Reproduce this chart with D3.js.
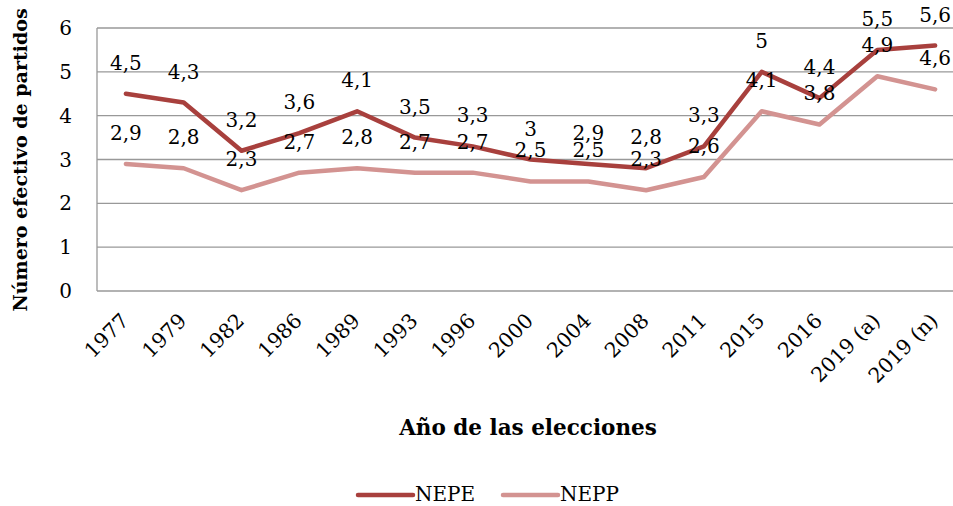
<!DOCTYPE html>
<html>
<head>
<meta charset="utf-8">
<script src="https://cdn.jsdelivr.net/npm/d3@7"></script>
<style>
  body { margin: 0; background: #fff; }
  svg { display: block; font-family: "DejaVu Serif", serif; }
</style>
</head>
<body>
<script>
const years = ["1977", "1979", "1982", "1986", "1989", "1993", "1996", "2000", "2004", "2008", "2011", "2015", "2016", "2019 (a)", "2019 (n)"];
const nepe = [4.5, 4.3, 3.2, 3.6, 4.1, 3.5, 3.3, 3, 2.9, 2.8, 3.3, 5, 4.4, 5.5, 5.6];
const nepp = [2.9, 2.8, 2.3, 2.7, 2.8, 2.7, 2.7, 2.5, 2.5, 2.3, 2.6, 4.1, 3.8, 4.9, 4.6];
const yTicks = [0, 1, 2, 3, 4, 5, 6];

const series = [
  { name: "NEPE", values: nepe, color: "#a8403d" },
  { name: "NEPP", values: nepp, color: "#d39391" }
];

const width = 953, height = 506;
const plotLeft = 97, plotRight = 964, plotTop = 28, plotBottom = 291;

const svg = d3.select("body").append("svg")
  .attr("width", width)
  .attr("height", height);

const x = d3.scalePoint().domain(years).range([plotLeft, plotRight]).padding(0.5);
const y = d3.scaleLinear().domain([0, 6]).range([plotBottom, plotTop]);

// gridlines
svg.append("g")
  .selectAll("line")
  .data(yTicks)
  .enter()
  .append("line")
  .attr("x1", plotLeft)
  .attr("x2", plotRight)
  .attr("y1", d => y(d))
  .attr("y2", d => y(d))
  .attr("stroke", "#999")
  .attr("stroke-width", 1.3);

svg.append("line")
  .attr("x1", plotLeft).attr("x2", plotLeft)
  .attr("y1", plotTop).attr("y2", plotBottom)
  .attr("stroke", "#999")
  .attr("stroke-width", 1.3);

// y tick labels
svg.append("g")
  .selectAll("text")
  .data(yTicks)
  .enter()
  .append("text")
  .attr("x", 72)
  .attr("y", d => y(d) + 7)
  .attr("text-anchor", "end")
  .attr("font-size", 20)
  .text(d => d);

// x tick labels, rotated
svg.append("g")
  .selectAll("text")
  .data(years)
  .enter()
  .append("text")
  .attr("transform", d => `translate(${x(d) + 4}, ${plotBottom + 31}) rotate(-45)`)
  .attr("text-anchor", "end")
  .attr("font-size", 20.5)
  .text(d => d);

const line = d3.line()
  .x((d, i) => x(years[i]))
  .y(d => y(d));

svg.append("g")
  .selectAll("path")
  .data(series.slice().reverse())
  .enter()
  .append("path")
  .attr("d", d => line(d.values))
  .attr("fill", "none")
  .attr("stroke", d => d.color)
  .attr("stroke-width", 4.5)
  .attr("stroke-linejoin", "round")
  .attr("stroke-linecap", "round");

// data labels
series.forEach(s => {
  svg.append("g")
    .selectAll("text")
    .data(s.values)
    .enter()
    .append("text")
    .attr("x", (d, i) => x(years[i]))
    .attr("y", d => y(d) - 24)
    .attr("text-anchor", "middle")
    .attr("font-size", 20)
    .text(d => String(d).replace(".", ","));
});

// axis titles
svg.append("text")
  .attr("x", 528)
  .attr("y", 435)
  .attr("text-anchor", "middle")
  .attr("font-size", 21.5)
  .attr("font-weight", "bold")
  .text("Año de las elecciones");

svg.append("text")
  .attr("transform", "translate(27, 160) rotate(-90)")
  .attr("text-anchor", "middle")
  .attr("font-size", 19)
  .attr("font-weight", "bold")
  .text("Número efectivo de partidos");

// legend
const legend = svg.append("g")
  .selectAll("g")
  .data(series)
  .enter()
  .append("g")
  .attr("transform", (d, i) => `translate(${358 + i * 145}, 495)`);

legend.append("line")
  .attr("x1", 0).attr("x2", 55)
  .attr("stroke", d => d.color)
  .attr("stroke-width", 4.5)
  .attr("stroke-linecap", "round");

legend.append("text")
  .attr("x", 57)
  .attr("y", 6)
  .attr("font-size", 20)
  .text(d => d.name);
</script>
</body>
</html>
